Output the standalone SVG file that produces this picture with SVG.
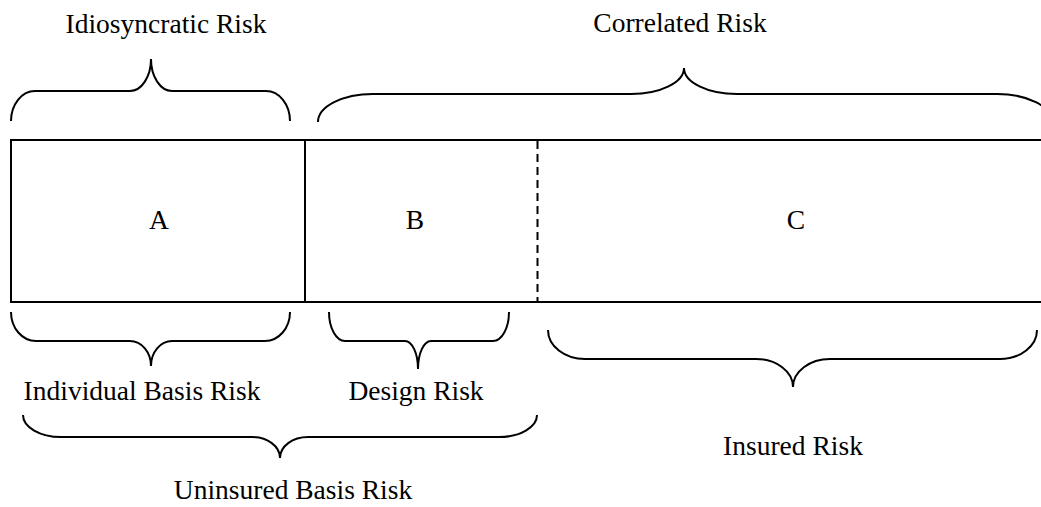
<svg xmlns="http://www.w3.org/2000/svg" width="1041" height="507" viewBox="0 0 1041 507">
<style>
.t{font-family:"Liberation Serif","Times New Roman",serif;font-size:27.5px;fill:#000;text-anchor:middle}
.b{fill:none;stroke:#000;stroke-width:2}
.box{fill:none;stroke:#000;stroke-width:2}
</style>
<rect width="1041" height="507" fill="#fff"/>
<g id="box">
<rect class="box" x="11" y="140" width="1100" height="162"/>
<line class="box" x1="305" y1="140" x2="305" y2="302"/>
<line class="box" x1="537.5" y1="141" x2="537.5" y2="302" stroke-width="1.6" stroke-dasharray="8,5"/>
</g>
<g id="A"><text class="t" x="159" y="229">A</text></g>
<g id="B"><text class="t" x="415" y="229">B</text></g>
<g id="C"><text class="t" x="796" y="229">C</text></g>
<g id="connectors">
<path class="b" d="M11,121 A24,30 0 0 1 35,91 L130,91 A21,32 0 0 0 151,59 A21,32 0 0 0 172,91 L266,91 A24,30 0 0 1 290,121"/>
<path class="b" d="M318,122 A55,28 0 0 1 373,94 L631,94 A53,26 0 0 0 684,68 A53,26 0 0 0 737,94 L997,94 A55,28 0 0 1 1052,122"/>
<path class="b" d="M11,312 A25,29 0 0 0 36,341 L130,341 A21,25 0 0 1 151,366 A21,25 0 0 1 172,341 L265,341 A25,29 0 0 0 290,312"/>
<path class="b" d="M329,312 A16,29 0 0 0 345,341 L405,341 A13,28 0 0 1 418,369 A13,28 0 0 1 431,341 L493,341 A16,29 0 0 0 509,312"/>
<path class="b" d="M548,330 A37,29 0 0 0 585,359 L756,359 A37,28 0 0 1 793,387 A37,28 0 0 1 830,359 L1000,359 A37,29 0 0 0 1037,330"/>
<path class="b" d="M23,415 A38,22 0 0 0 61,437 L252,437 A28,21 0 0 1 280,458 A28,21 0 0 1 308,437 L499,437 A38,22 0 0 0 537,415"/>
</g>
<g id="idiosyncratic"><text class="t" x="166" y="33">Idiosyncratic Risk</text></g>
<g id="correlated"><text class="t" x="680" y="32">Correlated Risk</text></g>
<g id="individual"><text class="t" x="142" y="400">Individual Basis Risk</text></g>
<g id="design"><text class="t" x="416" y="400">Design Risk</text></g>
<g id="insured"><text class="t" x="793" y="455">Insured Risk</text></g>
<g id="uninsured"><text class="t" x="293" y="499">Uninsured Basis Risk</text></g>
</svg>
